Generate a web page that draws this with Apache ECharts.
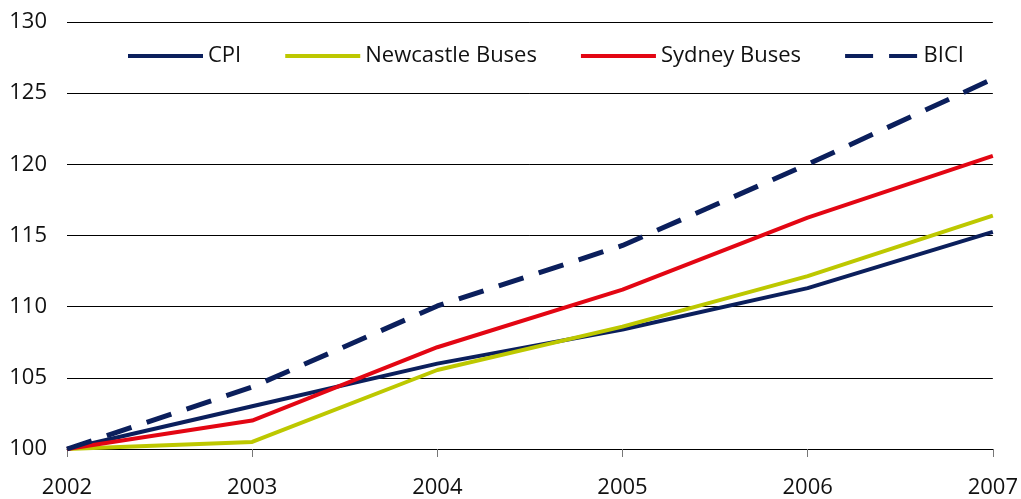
<!DOCTYPE html>
<html>
<head>
<meta charset="utf-8">
<script src="https://cdn.jsdelivr.net/npm/echarts@6/dist/echarts.min.js"></script>
<style>
  html, body { margin: 0; padding: 0; background: #fff; }
</style>
</head>
<body>
<div id="chart" style="width: 1021px; height: 499px"></div>
<script>
const years = ["2002", "2003", "2004", "2005", "2006", "2007"];
const cpi = [100, 103.0, 106.0, 108.4, 111.3, 115.25];
const newcastle = [100, 100.5, 105.55, 108.6, 112.15, 116.4];
const sydney = [100, 102.0, 107.15, 111.2, 116.25, 120.6];
const bici = [100, 104.35, 110.05, 114.3, 120.0, 126.0];
const yTicks = [100, 105, 110, 115, 120, 125, 130];

const chart = echarts.init(document.getElementById("chart"));

const lineSeries = (name, data, color, width, type) => ({
  name: name,
  type: "line",
  data: data,
  symbol: "none",
  showSymbol: false,
  animation: false,
  lineStyle: { color: color, width: width, type: type },
  itemStyle: { color: color },
});

// legend icons: solid bar, and two dashes for BICI
const solidIcon = "path://M0,0h75v4h-75z";
const dashIcon = "path://M0,0h28v4h-28z M44,0h28v4h-28z";

const option = {
  backgroundColor: "#fff",
  textStyle: { fontFamily: "Open Sans" },
  grid: {
    left: 67,
    right: 25,
    top: 22,
    bottom: 50,
    containLabel: false,
  },
  legend: {
    left: 123,
    top: 40,
    itemWidth: 75,
    itemHeight: 4,
    itemGap: 44,
    textStyle: { fontSize: 22, color: "#111", fontFamily: "Open Sans" },
    data: [
      { name: "CPI", icon: solidIcon },
      { name: "Newcastle Buses", icon: solidIcon },
      { name: "Sydney Buses", icon: solidIcon },
      { name: "BICI", icon: dashIcon },
    ],
  },
  xAxis: {
    type: "category",
    boundaryGap: false,
    data: years,
    axisLine: { lineStyle: { color: "#000", width: 1 } },
    axisTick: { show: true, length: 8, lineStyle: { color: "#777" } },
    axisLabel: { color: "#111", fontSize: 22, margin: 28 },
    splitLine: { show: false },
  },
  yAxis: {
    type: "value",
    min: yTicks[0],
    max: yTicks[yTicks.length - 1],
    interval: 5,
    axisLine: { show: false },
    axisTick: { show: false },
    axisLabel: { color: "#111", fontSize: 22, margin: 20 },
    splitLine: { lineStyle: { color: "#000", width: 1 } },
  },
  series: [
    lineSeries("CPI", cpi, "#0b1f5c", 4, "solid"),
    lineSeries("Newcastle Buses", newcastle, "#bdc800", 4, "solid"),
    lineSeries("Sydney Buses", sydney, "#e30613", 4, "solid"),
    lineSeries("BICI", bici, "#0b1f5c", 5, [26, 16]),
  ],
};
chart.setOption(option);
</script>
</body>
</html>
